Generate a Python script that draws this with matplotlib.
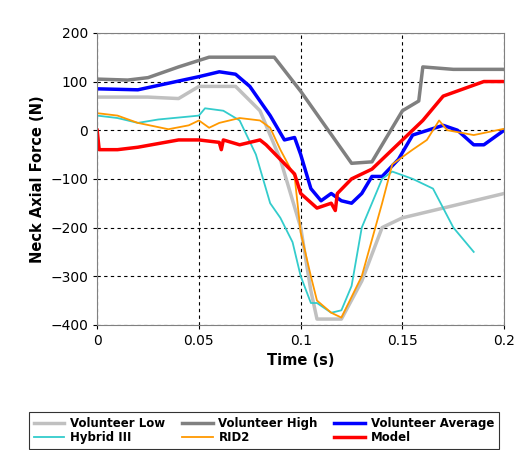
import matplotlib
matplotlib.use("Agg")
import matplotlib.pyplot as plt

low_t=[0,0.025,0.04,0.05,0.068,0.08,0.09,0.1,0.105,0.108,0.12,0.13,0.14,0.15,0.17,0.19,0.2]
low_v=[68,68,65,90,90,40,-60,-200,-330,-388,-388,-310,-200,-180,-160,-140,-130]
high_t=[0,0.015,0.025,0.04,0.055,0.087,0.1,0.125,0.135,0.15,0.158,0.16,0.175,0.2]
high_v=[105,103,108,130,150,150,80,-68,-65,40,60,130,125,125]
avg_t=[0,0.02,0.03,0.05,0.06,0.068,0.075,0.085,0.092,0.097,0.1,0.105,0.11,0.115,0.12,0.125,0.13,0.135,0.14,0.148,0.155,0.17,0.177,0.185,0.19,0.2]
avg_v=[85,83,92,110,120,115,90,30,-20,-15,-50,-120,-145,-130,-145,-150,-130,-95,-95,-60,-10,10,0,-30,-30,0]
h3_t=[0,0.01,0.02,0.03,0.05,0.053,0.062,0.07,0.078,0.085,0.09,0.096,0.1,0.105,0.108,0.115,0.12,0.125,0.13,0.14,0.145,0.155,0.165,0.175,0.185]
h3_v=[30,25,15,22,30,45,40,20,-50,-150,-180,-230,-300,-355,-355,-375,-370,-320,-200,-100,-85,-100,-120,-200,-250]
rid_t=[0,0.01,0.02,0.035,0.045,0.05,0.055,0.06,0.07,0.08,0.085,0.09,0.097,0.1,0.105,0.108,0.115,0.12,0.13,0.14,0.145,0.155,0.162,0.168,0.172,0.185,0.2]
rid_v=[35,30,15,2,10,20,5,15,25,20,5,-40,-95,-210,-300,-350,-375,-385,-300,-150,-70,-40,-20,20,0,-10,3]
mod_t=[0,0.001,0.01,0.02,0.04,0.05,0.06,0.061,0.062,0.07,0.08,0.083,0.09,0.097,0.1,0.108,0.115,0.117,0.118,0.125,0.135,0.145,0.16,0.17,0.18,0.19,0.2]
mod_v=[0,-40,-40,-35,-20,-20,-25,-40,-20,-30,-20,-30,-60,-90,-130,-160,-150,-165,-130,-100,-80,-40,20,70,85,100,100]

fig=plt.figure(figsize=(5.28,4.5),dpi=100)
ax=fig.add_axes([0.184,0.278,0.771,0.649])
l1,=ax.plot(low_t,low_v,color='#c0c0c0',lw=2.5,label='Volunteer Low')
l2,=ax.plot(high_t,high_v,color='#808080',lw=2.5,label='Volunteer High')
l3,=ax.plot(avg_t,avg_v,color='#0000ff',lw=2.5,label='Volunteer Average')
l4,=ax.plot(h3_t,h3_v,color='#33cccc',lw=1.3,label='Hybrid III')
l5,=ax.plot(rid_t,rid_v,color='#ff9900',lw=1.3,label='RID2')
l6,=ax.plot(mod_t,mod_v,color='#ff0000',lw=2.5,label='Model')
ax.set_xlim(0,0.2); ax.set_ylim(-400,200)
ax.set_xticks([0,0.05,0.1,0.15,0.2]); ax.set_xticklabels(['0','0.05','0.1','0.15','0.2'])
ax.set_yticks(range(-400,201,100))
ax.grid(True,color='black',ls=(0,(3,3)),lw=0.8)
ax.tick_params(labelsize=10,length=3)
ax.set_xlabel('Time (s)',fontweight='bold',fontsize=10.5)
ax.set_ylabel('Neck Axial Force (N)',fontweight='bold',fontsize=10.5)
for s in ax.spines.values(): s.set_color('#808080')
hs=[l1,l4,l2,l5,l3,l6]
leg=fig.legend(hs,[h.get_label() for h in hs],loc='lower center',bbox_to_anchor=(0.5,0.003),ncol=3,prop={'weight':'bold','size':8.5},
 frameon=True,fancybox=False,edgecolor='black',handlelength=2.6,columnspacing=1.4,borderaxespad=0,handletextpad=0.5,labelspacing=0.1)
leg.get_frame().set_linewidth(0.8)
fig.savefig('out.png')
